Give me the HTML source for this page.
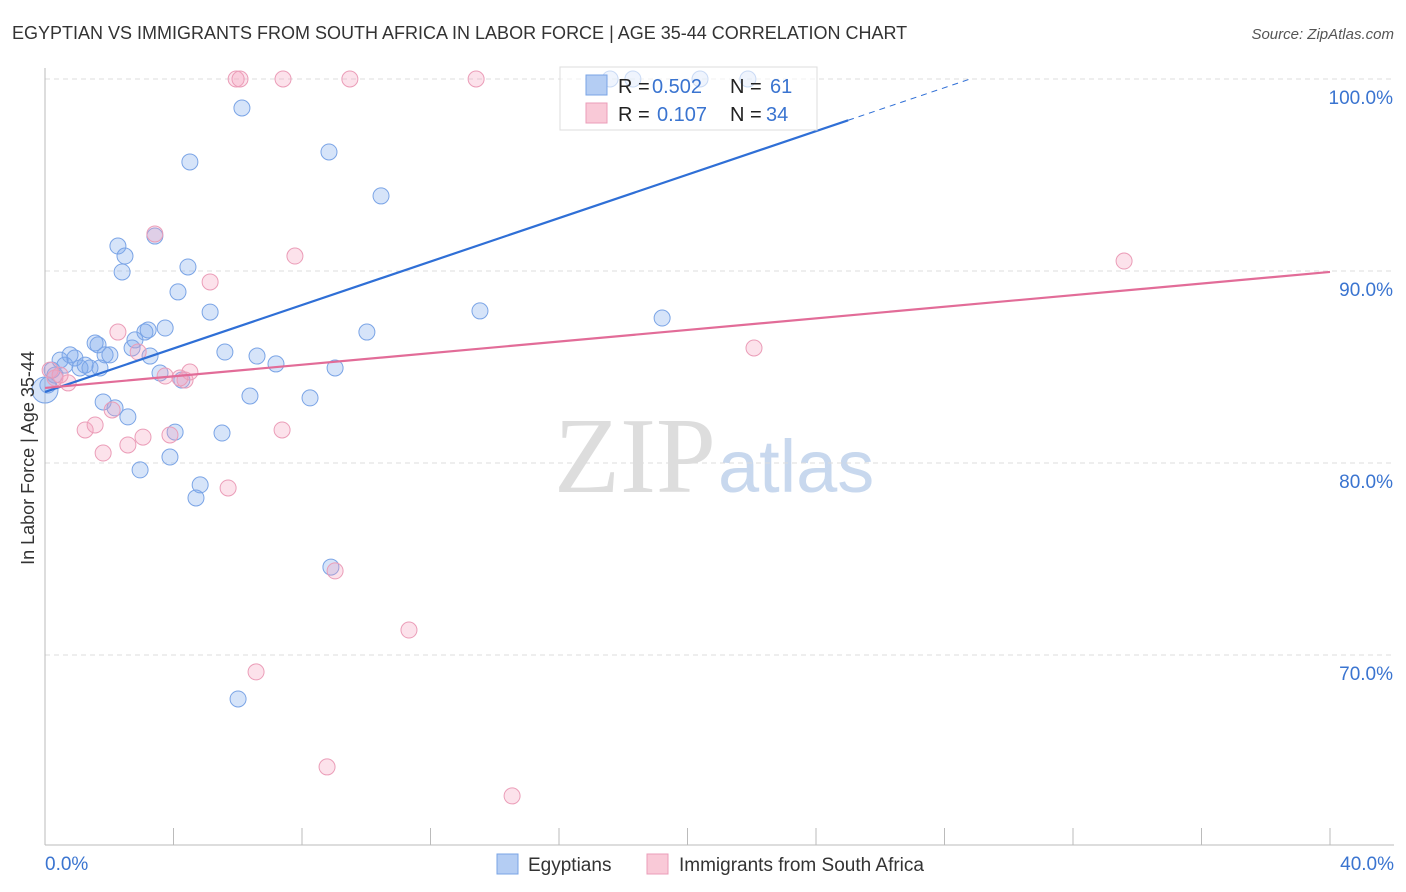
<!DOCTYPE html>
<html><head><meta charset="utf-8"><style>
body{margin:0;background:#fff;font-family:"Liberation Sans",sans-serif;}
svg{display:block}
</style></head><body>
<svg id="c" width="1406" height="892">
<text x="12" y="39" font-size="18" fill="#333">EGYPTIAN VS IMMIGRANTS FROM SOUTH AFRICA IN LABOR FORCE | AGE 35-44 CORRELATION CHART</text>
<text x="1394" y="39" font-size="15" fill="#555" font-style="italic" text-anchor="end">Source: ZipAtlas.com</text>
<text x="716" y="492" font-size="108" fill="#ddd" text-anchor="end" font-family="Liberation Serif,serif">ZIP</text>
<text x="718" y="492" font-size="74" fill="#c8d8ee">atlas</text>
<g id="grid"></g><g id="axes"></g><g id="marks"></g><g id="lines"></g>
<text x="34" y="458" font-size="18" fill="#333" text-anchor="middle" transform="rotate(-90 34 458)">In Labor Force | Age 35-44</text>
<g>
<rect x="560" y="67" width="257" height="63" fill="#fff" fill-opacity="0.6" stroke="#ddd"/>
<rect x="586" y="75" width="21" height="20" fill="#b4cdf3" stroke="#7aa4e6"/>
<text x="618" y="93" font-size="20" fill="#222">R = </text><text x="652" y="93" font-size="20" fill="#3a74d0">0.502</text>
<text x="730" y="93" font-size="20" fill="#222">N = </text><text x="770" y="93" font-size="20" fill="#3a74d0">61</text>
<rect x="586" y="103" width="21" height="20" fill="#f9c9d7" stroke="#eb9db8"/>
<text x="618" y="121" font-size="20" fill="#222">R = </text><text x="657" y="121" font-size="20" fill="#3a74d0">0.107</text>
<text x="730" y="121" font-size="20" fill="#222">N = </text><text x="766" y="121" font-size="20" fill="#3a74d0">34</text>
</g>
<g>
<rect x="497" y="854" width="21" height="20" fill="#b4cdf3" stroke="#7aa4e6"/>
<text x="528" y="871" font-size="19" fill="#333">Egyptians</text>
<rect x="647" y="854" width="21" height="20" fill="#f9c9d7" stroke="#eb9db8"/>
<text x="679" y="871" font-size="19" fill="#333">Immigrants from South Africa</text>
</g>
</svg>
<script>
const blueX=[0.09,0.22,0.31,0.47,0.62,0.78,0.93,1.09,1.25,1.40,1.56,1.65,1.71,1.87,2.02,1.81,2.18,2.58,2.27,2.49,2.40,2.80,2.71,3.11,3.21,3.27,3.42,3.58,3.74,2.96,3.89,4.05,4.14,4.26,4.45,4.51,4.83,4.70,5.14,5.60,5.51,6.13,6.01,6.38,6.60,7.19,8.25,8.84,8.90,9.03,10.02,10.46,13.54,19.21,17.59,18.30,20.39,21.88,0];
const blueY=[84.06,84.84,84.58,85.36,85.10,85.63,85.47,84.95,85.10,84.95,86.25,86.15,84.95,85.63,85.63,83.18,82.87,82.40,91.30,90.78,89.95,86.41,85.99,86.82,86.93,85.57,91.82,84.69,87.03,79.64,80.31,81.61,88.91,84.32,90.21,95.68,78.86,78.18,87.86,85.78,81.56,98.49,67.71,83.49,85.57,85.16,83.39,96.20,74.58,84.95,86.82,93.91,87.92,87.55,100,100,100,100,83.8];
const pinkX=[0.16,0.31,0.72,1.25,1.56,1.81,2.09,2.27,2.58,3.05,3.42,3.74,3.89,4.36,4.51,5.14,5.70,5.95,6.07,7.41,9.49,13.42,6.57,7.38,7.78,9.03,8.78,11.33,14.54,22.07,33.59,2.90,4.20,0.47];
const pinkY=[84.84,84.43,84.17,81.72,81.98,80.52,82.76,86.82,80.94,81.35,91.93,84.53,81.46,84.32,84.74,89.43,78.70,100,100,100,100,100,69.12,81.72,90.78,74.38,64.17,71.30,62.66,85.99,90.52,85.78,84.43,84.58];
const yTicks=[100,90,80,70];
const blueTrend=[83.7,0.566];
const pinkTrend=[83.91,89.95];
const NS="http://www.w3.org/2000/svg";
const sx=v=>45+v/40*1285, sy=v=>79+(100-v)*19.2;
function mk(t,a,p){const e=document.createElementNS(NS,t);for(const k in a)e.setAttribute(k,a[k]);document.getElementById(p).appendChild(e);return e;}
yTicks.forEach(t=>{const l=mk('line',{x1:45,x2:1394,y1:sy(t),y2:sy(t),stroke:'#ddd','stroke-dasharray':'5,4'},'grid');


const tx=mk('text',{x:1393,y:sy(t)+25,'font-size':19,fill:'#3a74d0','text-anchor':'end'},'axes');tx.textContent=t.toFixed(1)+'%';

});
mk('line',{x1:45,x2:45,y1:68,y2:845,stroke:'#bbb'},'axes');
mk('line',{x1:45,x2:1394,y1:845,y2:845,stroke:'#bbb'},'axes');
for(let i=0;i<=10;i++){mk('line',{x1:sx(i*4),x2:sx(i*4),y1:828,y2:845,stroke:'#bbb'},'axes');}
[[0,'0.0%','start',45],[40,'40.0%','end',1394]].forEach(d=>{const t=mk('text',{x:d[3],y:870,'font-size':19,fill:'#3a74d0','text-anchor':d[2]},'axes');t.textContent=d[1];

});
blueX.forEach((x,i)=>{const c=mk('circle',{cx:sx(x),cy:sy(blueY[i]),r:i==blueX.length-1?13:8,fill:'rgba(120,165,235,0.3)',stroke:'#7aa4e6','stroke-width':1},'marks');

});
pinkX.forEach((x,i)=>{const c=mk('circle',{cx:sx(x),cy:sy(pinkY[i]),r:8,fill:'rgba(245,160,190,0.3)',stroke:'#eb9db8','stroke-width':1},'marks');

});
const bY=x=>blueTrend[0]+blueTrend[1]*x;
const xEnd=(100-blueTrend[0])/blueTrend[1];
const bl=mk('line',{x1:sx(0),y1:sy(bY(0)),x2:sx(25),y2:sy(bY(25)),stroke:'#2f6fd6','stroke-width':2.2},'lines');


const bd=mk('line',{x1:sx(25),y1:sy(bY(25)),x2:sx(xEnd),y2:sy(100),stroke:'#2f6fd6','stroke-width':1,'stroke-dasharray':'6,5'},'lines');


const pl=mk('line',{x1:sx(0),y1:sy(pinkTrend[0]),x2:sx(40),y2:sy(pinkTrend[1]),stroke:'#e26c98','stroke-width':2.2},'lines');


</script>
</body></html>
